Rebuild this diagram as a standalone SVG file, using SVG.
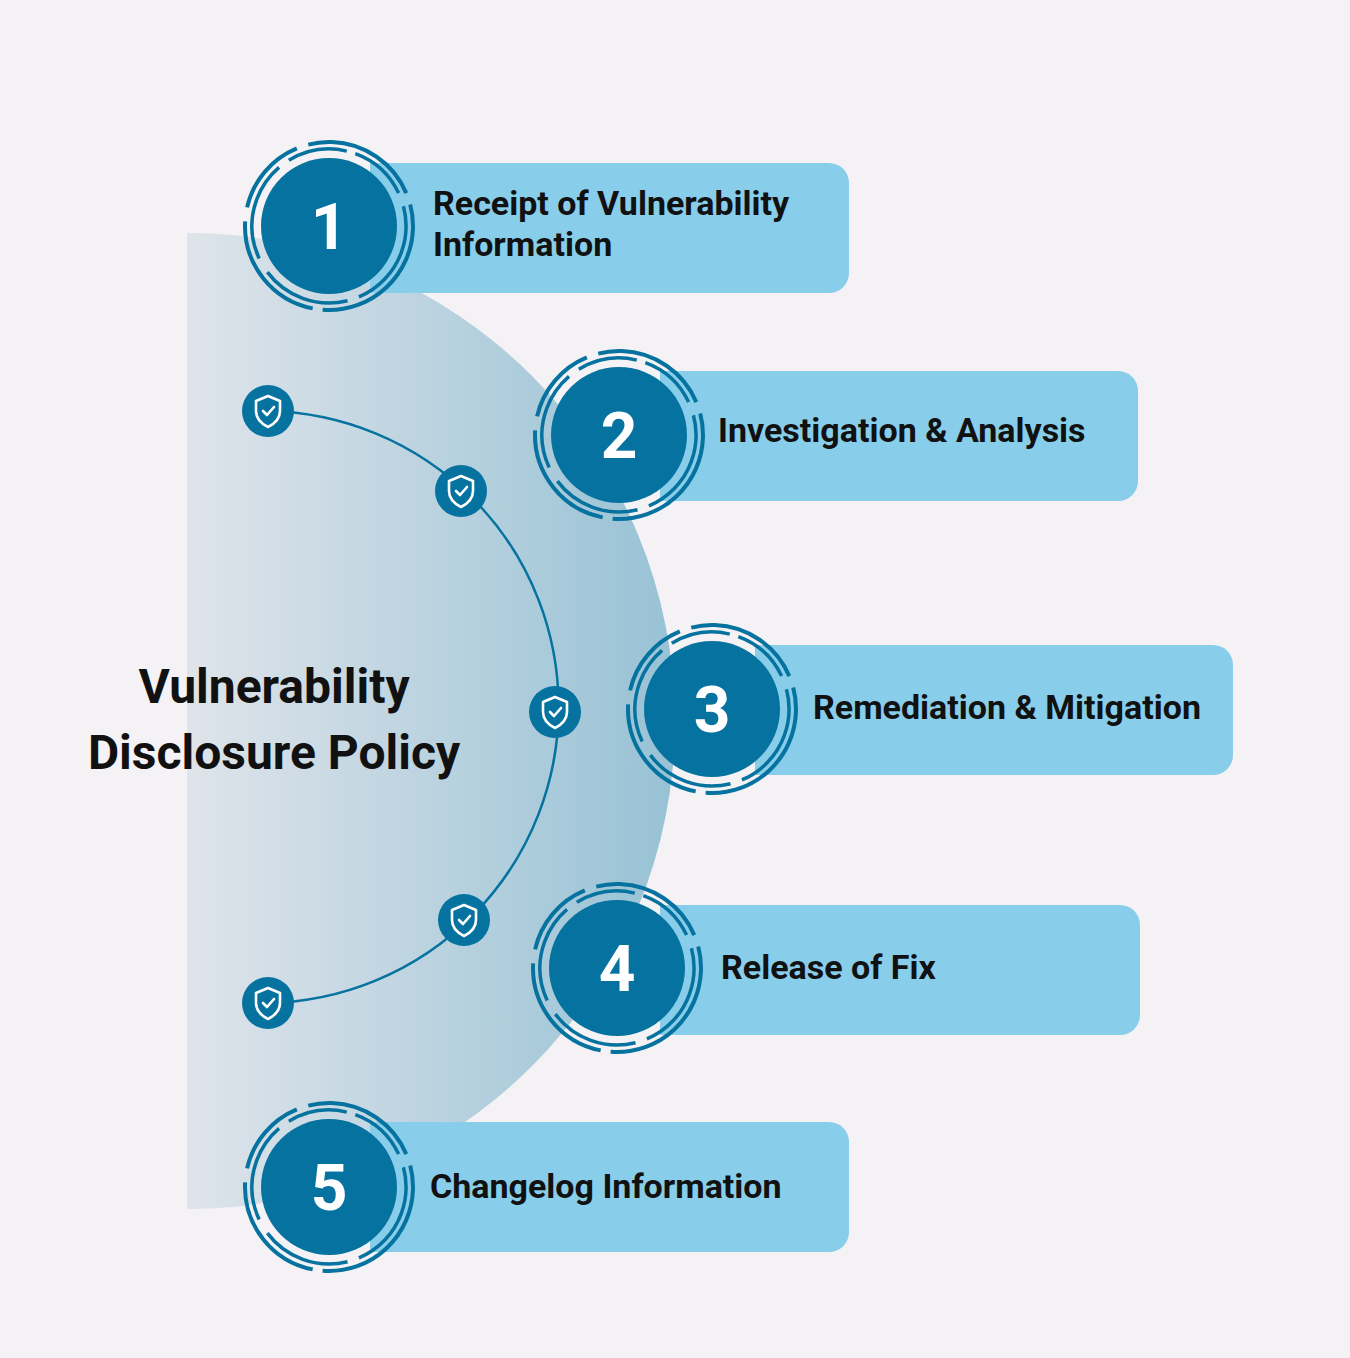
<svg xmlns="http://www.w3.org/2000/svg" width="1350" height="1358" viewBox="0 0 1350 1358">
<defs>
<linearGradient id="g" x1="0" x2="1" y1="0" y2="0"><stop offset="0" stop-color="#dfe4ea"/><stop offset="1" stop-color="#97c2d5"/></linearGradient>
<g id="ring">
<circle r="68" fill="#06729f"/>
<circle r="84" fill="none" stroke="#06729f" stroke-width="4" stroke-dasharray="95 12 160 10 120 14 80 12" transform="rotate(-88)"/>
<circle r="77" fill="none" stroke="#06729f" stroke-width="3.5" stroke-dasharray="60 14 110 12 90 16 100 12" transform="rotate(-70)"/>
</g>
<g id="sh">
<circle r="26" fill="#06729f"/>
<path d="M0 -15 L12 -10 L12 0 C12 8 6 13 0 16 C-6 13 -12 8 -12 0 L-12 -10 Z" fill="none" stroke="#fff" stroke-width="2.6" stroke-linejoin="round"/>
<path d="M-5 0 L-1 4 L6 -4" fill="none" stroke="#fff" stroke-width="2.6" stroke-linecap="round" stroke-linejoin="round"/>
</g>
</defs>
<style>
.card{fill:#88cdea}
.t{font-family:"Roboto","Liberation Sans",sans-serif;font-weight:bold;font-size:34px;fill:#111}
.n{font-family:"Roboto","Liberation Sans",sans-serif;font-weight:bold;font-size:64px;fill:#fff;text-anchor:middle}
</style>
<rect width="1350" height="1358" fill="#f4f2f5"/>
<path d="M187 233 A488 488 0 0 1 187 1209 Z" fill="url(#g)"/>
<text font-family="Roboto, 'Liberation Sans', sans-serif" font-weight="bold" font-size="48" fill="#111" text-anchor="middle"><tspan x="274" y="703">Vulnerability</tspan><tspan x="274" y="769">Disclosure Policy</tspan></text>
<g id="connectors"><path d="M268 411 A296.05 296.05 0 0 1 268 1003" fill="none" stroke="#06729f" stroke-width="2.5"/></g>
<g id="shields">
<use href="#sh" x="268" y="411"/><use href="#sh" x="461" y="491"/><use href="#sh" x="555" y="712"/><use href="#sh" x="464" y="920"/><use href="#sh" x="268" y="1003"/>
</g>
<g id="step1"><path class="card" d="M370 163 H829 A20 20 0 0 1 849 183 V273 A20 20 0 0 1 829 293 H370 Z"/><use href="#ring" x="329" y="226"/><text class="n" x="329" y="249">1</text><text class="t" x="433" y="215">Receipt of Vulnerability</text><text class="t" x="433" y="256">Information</text></g>
<g id="step2"><path class="card" d="M660 371 H1118 A20 20 0 0 1 1138 391 V481 A20 20 0 0 1 1118 501 H660 Z"/><use href="#ring" x="619" y="435"/><text class="n" x="619" y="458">2</text><text class="t" x="718" y="442">Investigation &amp; Analysis</text></g>
<g id="step3"><path class="card" d="M755 645 H1213 A20 20 0 0 1 1233 665 V755 A20 20 0 0 1 1213 775 H755 Z"/><use href="#ring" x="712" y="709"/><text class="n" x="712" y="732">3</text><text class="t" x="813" y="719">Remediation &amp; Mitigation</text></g>
<g id="step4"><path class="card" d="M660 905 H1120 A20 20 0 0 1 1140 925 V1015 A20 20 0 0 1 1120 1035 H660 Z"/><use href="#ring" x="617" y="968"/><text class="n" x="617" y="991">4</text><text class="t" x="721" y="979">Release of Fix</text></g>
<g id="step5"><path class="card" d="M370 1122 H829 A20 20 0 0 1 849 1142 V1232 A20 20 0 0 1 829 1252 H370 Z"/><use href="#ring" x="329" y="1187"/><text class="n" x="329" y="1210">5</text><text class="t" x="430" y="1198">Changelog Information</text></g>
</svg>
